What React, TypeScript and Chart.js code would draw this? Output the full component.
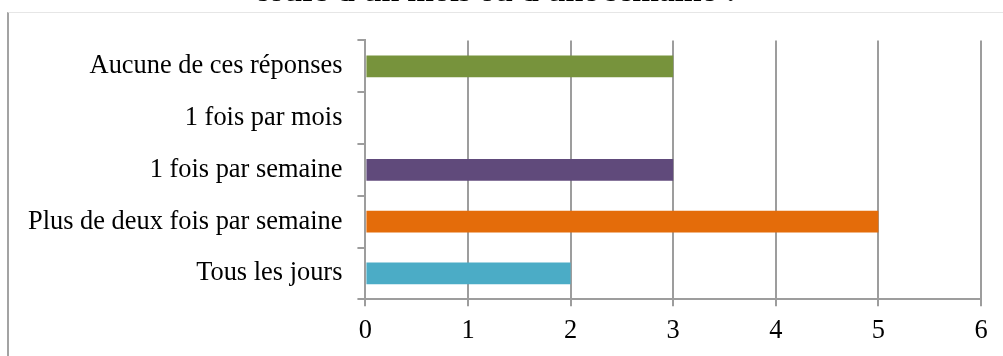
import React, { useEffect, useRef } from "react";
import { Chart, registerables } from "chart.js";

Chart.register(...registerables);

const categories = [
  "Aucune de ces réponses",
  "1 fois par mois",
  "1 fois par semaine",
  "Plus de deux fois par semaine",
  "Tous les jours",
];
const counts = [3, 0, 3, 5, 2];
const barColors = ["#77933C", "#604A7B", "#604A7B", "#E46C0A", "#4BACC6"];
const titleLine = "cours d'un mois ou d'une semaine ?";
const axisMax = 6;

const SERIF = "'Liberation Serif', 'Times New Roman', serif";
const GRID = "#9d9d9d";

export default function App() {
  const canvasRef = useRef<HTMLCanvasElement | null>(null);

  useEffect(() => {
    const canvas = canvasRef.current;
    if (!canvas) return;
    const chart = new Chart(canvas, {
      type: "bar",
      data: {
        labels: categories,
        datasets: [
          {
            data: counts,
            backgroundColor: barColors,
            borderWidth: 0,
            categoryPercentage: 1,
            barPercentage: 0.42,
          },
        ],
      },
      options: {
        indexAxis: "y",
        animation: false,
        responsive: false,
        maintainAspectRatio: false,
        layout: { padding: { left: 13, right: 49, top: 0, bottom: 0 } },
        plugins: {
          legend: { display: false },
          tooltip: { enabled: false },
          title: {
            display: true,
            text: titleLine,
            color: "#000",
            font: { family: SERIF, size: 32, weight: "bold" },
            padding: { top: 14, bottom: 28 },
          },
        },
        scales: {
          x: {
            min: 0,
            max: axisMax,
            ticks: {
              stepSize: 1,
              color: "#000",
              font: { family: SERIF, size: 26.4 },
              padding: 9,
            },
            grid: {
              color: GRID,
              lineWidth: 2,
              tickLength: 7,
              drawTicks: true,
            },
            border: { color: GRID, width: 2 },
          },
          y: {
            ticks: {
              color: "#000",
              font: { family: SERIF, size: 26.4 },
              padding: 15,
            },
            grid: {
              color: GRID,
              lineWidth: 2,
              drawOnChartArea: false,
              drawTicks: true,
              tickLength: 8,
              offset: true,
            },
            border: { color: GRID, width: 2 },
          },
        },
      },
    });
    return () => chart.destroy();
  }, []);

  return (
    <div
      style={{
        position: "fixed",
        left: 0,
        top: 0,
        width: 1003,
        height: 356,
        overflow: "hidden",
        background: "#fff",
      }}
    >
      <div
        style={{
          position: "absolute",
          left: 7,
          top: 12,
          width: 1100,
          height: 400,
          borderLeft: "2px solid #a3a3a3",
          borderTop: "1px solid #e6e6e6",
        }}
      />
      <canvas
        ref={canvasRef}
        width={1030}
        height={396}
        style={{ position: "absolute", left: 0, top: -40, width: 1030, height: 396 }}
      />
    </div>
  );
}
